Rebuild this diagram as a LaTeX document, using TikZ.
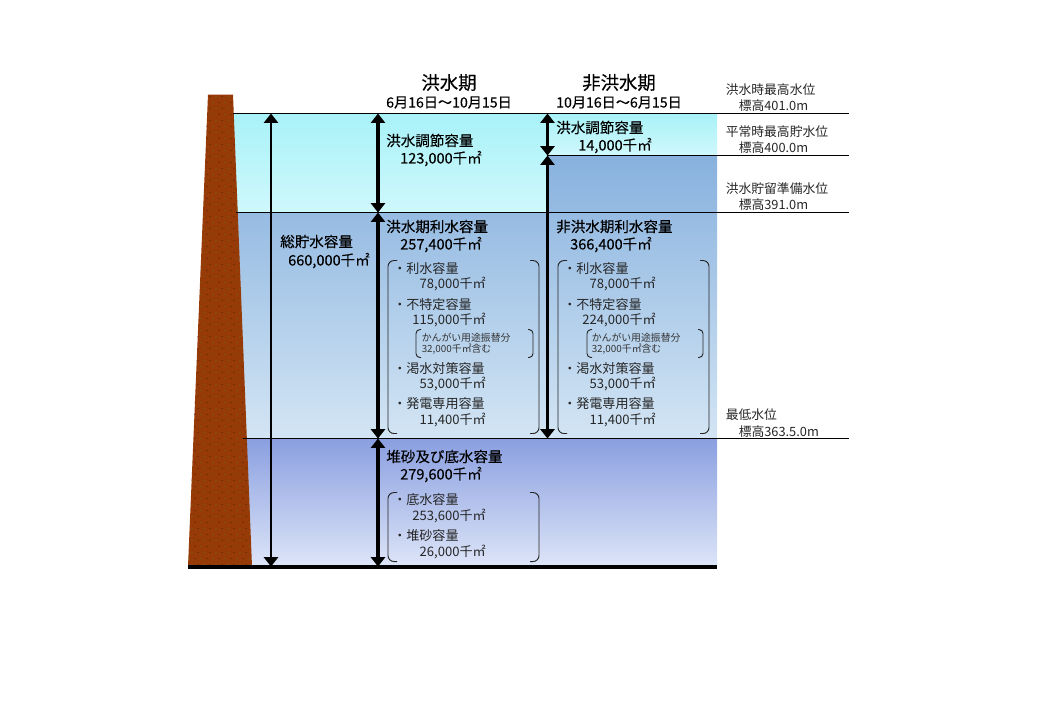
\documentclass[tikz,border=0pt]{standalone}
\usepackage{fontspec}
\setmainfont{Noto Sans CJK JP}
\newfontfamily\medfont[FakeBold=0.25]{Noto Sans CJK JP}
\usetikzlibrary{arrows.meta}

\definecolor{damred}{HTML}{963A08}
\definecolor{damdot}{HTML}{6A6A10}
\definecolor{damspeck}{HTML}{5E1E06}
\definecolor{floodtop}{HTML}{A8F2F8}
\definecolor{floodbot}{HTML}{CFF8FC}
\definecolor{usetop}{HTML}{87B1DE}
\definecolor{usebot}{HTML}{D3E5F4}
\definecolor{deadtop}{HTML}{8A9FE0}
\definecolor{deadbot}{HTML}{DDE5F8}

\tikzset{
    capbig/.style={anchor=west, inner sep=0pt, font=\medfont\fontsize{10.9}{12}\selectfont},
    capsub/.style={anchor=west, inner sep=0pt, text=black!85, font=\fontsize{9.8}{12}\selectfont},
    capnum/.style={anchor=east, inner sep=0pt, text=black!85, font=\fontsize{9.8}{12}\selectfont},
    capsmall/.style={anchor=west, inner sep=0pt, text=black!80, font=\fontsize{7.4}{9}\selectfont},
    caphead/.style={anchor=center, inner sep=0pt, font=\medfont\fontsize{13.8}{15}\selectfont},
    capdate/.style={anchor=center, inner sep=0pt, font=\medfont\fontsize{10.6}{12}\selectfont},
    caplevel/.style={anchor=west, inner sep=0pt, text=black!85, font=\fontsize{9.6}{12}\selectfont},
    thinarrow/.style={{Triangle[width=10.5pt,length=7pt]}-{Triangle[width=10.5pt,length=7pt]}, line width=2pt},
    fatarrow/.style={{Triangle[width=10.5pt,length=7pt]}-{Triangle[width=10.5pt,length=7pt]}, line width=2.6pt},
    bracket/.style={draw=black!85, line width=0.7pt, rounded corners=4.5pt},
    level/.style={line width=0.75pt}
}

\begin{document}
\begin{tikzpicture}[x=0.75pt, y=-0.75pt]
    \useasboundingbox (0,0) rectangle (1040,720);

    \begin{scope}[yshift=-0.4pt]
    % Acqua
    \shade[top color=usetop, bottom color=usebot] (225,155) rectangle (717,438);
    \shade[top color=floodtop, bottom color=floodbot] (225,113) rectangle (547,212);
    \shade[top color=floodtop, bottom color=floodbot] (547,113) rectangle (717,155);
    \shade[top color=deadtop, bottom color=deadbot] (225,438) rectangle (717,566);

    % Diga
    \fill[damred] (208,94) -- (233,94) -- (252,566) -- (188,566) -- cycle;
    \begin{scope}
        \clip (208,94) -- (233,94) -- (252,566) -- (188,566) -- cycle;
        \foreach \yy in {96,108,...,564} {
            \foreach \xx in {186,198,...,254} {
                \fill[damspeck] (\xx,\yy) circle (0.45pt);
                \fill[damdot] (\xx+6,\yy) circle (0.45pt);
                \fill[damdot] (\xx+3,\yy+6) circle (0.45pt);
                \fill[damspeck] (\xx+9,\yy+6) circle (0.45pt);
            }
        }
    \end{scope}

    % Punti dei livelli
    \coordinate (topL) at (233,113);
    \coordinate (topR) at (849,113);
    \coordinate (normL) at (547,155);
    \coordinate (normR) at (849,155);
    \coordinate (prepL) at (236,212);
    \coordinate (prepR) at (849,212);
    \coordinate (lowL) at (243,438);
    \coordinate (lowR) at (849,438);
    \coordinate (baseL) at (188,566.5);
    \coordinate (baseR) at (717,566.5);

    \draw[level] (topL) -- (topR);
    \draw[level] (normL) -- (normR);
    \draw[level] (prepL) -- (prepR);
    \draw[level] (lowL) -- (lowR);
    \draw[line width=2.8pt] (baseL) -- (baseR);

    % Frecce
    \coordinate (totTop) at (271,113);
    \coordinate (totBot) at (271,566);
    \coordinate (aTop) at (378,113);
    \coordinate (aPrep) at (378,212);
    \coordinate (aLow) at (378,438);
    \coordinate (aBot) at (378,566);
    \coordinate (bTop) at (547.5,113);
    \coordinate (bNorm) at (547.5,155);
    \coordinate (bLow) at (547.5,438);

    \draw[thinarrow] (totTop) -- (totBot);
    \draw[fatarrow] (aTop) -- (aPrep);
    \draw[fatarrow] (aPrep) -- (aLow);
    \draw[fatarrow] (aLow) -- (aBot);
    \draw[fatarrow] (bTop) -- (bNorm);
    \draw[fatarrow] (bNorm) -- (bLow);

    % Parentesi
    \draw[bracket] (397,260) -- (388,260) -- (388,433) -- (397,433);
    \draw[bracket] (530,260) -- (539,260) -- (539,433) -- (530,433);
    \draw[bracket] (567,260) -- (558,260) -- (558,433) -- (567,433);
    \draw[bracket] (700,260) -- (709,260) -- (709,433) -- (700,433);
    \draw[bracket, rounded corners=3pt] (421,329) -- (416,329) -- (416,357) -- (421,357);
    \draw[bracket, rounded corners=3pt] (528,329) -- (533,329) -- (533,357) -- (528,357);
    \draw[bracket, rounded corners=3pt] (592,329) -- (587,329) -- (587,357) -- (592,357);
    \draw[bracket, rounded corners=3pt] (698,329) -- (703,329) -- (703,357) -- (698,357);
    \draw[bracket] (397,492) -- (388,492) -- (388,561) -- (397,561);
    \draw[bracket] (530,492) -- (539,492) -- (539,561) -- (530,561);

    % Titoli
    \node[caphead] (headA) at (449,82) {洪水期};
    \node[capdate] (dateA) at (449,102) {6月16日～10月15日};
    \node[caphead] (headB) at (619,82) {非洪水期};
    \node[capdate] (dateB) at (619,102) {10月16日～6月15日};

    % Volumi principali
    \node[capbig] (totName) at (280,241) {総貯水容量};
    \node[capbig, anchor=east] (totVal) at (370,260) {660,000千㎡};
    \node[capbig] (ctlA) at (386,140) {洪水調節容量};
    \node[capbig, anchor=east] (ctlAval) at (482,158) {123,000千㎡};
    \node[capbig] (ctlB) at (556,127) {洪水調節容量};
    \node[capbig, anchor=east] (ctlBval) at (652,145) {14,000千㎡};
    \node[capbig] (useA) at (386,226) {洪水期利水容量};
    \node[capbig, anchor=east] (useAval) at (482,244) {257,400千㎡};
    \node[capbig] (useB) at (556,226) {非洪水期利水容量};
    \node[capbig, anchor=east] (useBval) at (652,244) {366,400千㎡};
    \node[capbig] (sedi) at (386,456) {堆砂及び底水容量};
    \node[capbig, anchor=east] (sedival) at (482,474) {279,600千㎡};

    % Dettaglio colonna sinistra
    \node[capsub] (a1) at (393,268) {・利水容量};
    \node[capnum] (a1v) at (486,284) {78,000千㎡};
    \node[capsub] (a2) at (393,304) {・不特定容量};
    \node[capnum] (a2v) at (486,320) {115,000千㎡};
    \node[capsmall] (a2s) at (421.5,337) {かんがい用途振替分};
    \node[capsmall] (a2t) at (421.5,349) {32,000千㎡含む};
    \node[capsub] (a3) at (393,368) {・渇水対策容量};
    \node[capnum] (a3v) at (486,384) {53,000千㎡};
    \node[capsub] (a4) at (393,403) {・発電専用容量};
    \node[capnum] (a4v) at (486,420) {11,400千㎡};

    % Dettaglio colonna destra
    \node[capsub] (b1) at (563,268) {・利水容量};
    \node[capnum] (b1v) at (656,284) {78,000千㎡};
    \node[capsub] (b2) at (563,304) {・不特定容量};
    \node[capnum] (b2v) at (656,320) {224,000千㎡};
    \node[capsmall] (b2s) at (591.5,337) {かんがい用途振替分};
    \node[capsmall] (b2t) at (591.5,349) {32,000千㎡含む};
    \node[capsub] (b3) at (563,368) {・渇水対策容量};
    \node[capnum] (b3v) at (656,384) {53,000千㎡};
    \node[capsub] (b4) at (563,403) {・発電専用容量};
    \node[capnum] (b4v) at (656,420) {11,400千㎡};

    % Dettaglio in basso
    \node[capsub] (c1) at (393,499) {・底水容量};
    \node[capnum] (c1v) at (486,516) {253,600千㎡};
    \node[capsub] (c2) at (393,535) {・堆砂容量};
    \node[capnum] (c2v) at (486,552) {26,000千㎡};

    % Quote
    \node[caplevel] (lvlA) at (725.5,89) {洪水時最高水位};
    \node[caplevel] (lvlAv) at (738.5,105) {標高401.0m};
    \node[caplevel] (lvlB) at (725.5,131) {平常時最高貯水位};
    \node[caplevel] (lvlBv) at (738.5,147) {標高400.0m};
    \node[caplevel] (lvlC) at (725.5,188) {洪水貯留準備水位};
    \node[caplevel] (lvlCv) at (738.5,204) {標高391.0m};
    \node[caplevel] (lvlD) at (725.5,414) {最低水位};
    \node[caplevel] (lvlDv) at (738.5,431) {標高363.5.0m};
    \end{scope}
\end{tikzpicture}
\end{document}
